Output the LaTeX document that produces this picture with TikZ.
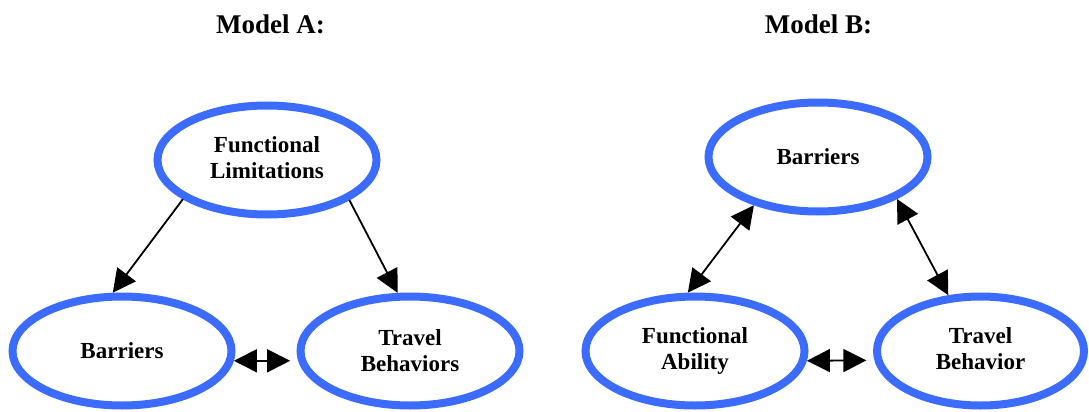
\documentclass[tikz,border=0pt]{standalone}
\usepackage{fontspec}
\setmainfont{Liberation Serif}
\usetikzlibrary{shapes.geometric,arrows.meta}
\definecolor{ringblue}{RGB}{59,107,255}
% two centred lines, lifted by the given amount
\newcommand{\liftlines}[3]{\raisebox{#1}{\begin{tabular}{@{}c@{}}#2\\#3\end{tabular}}}
\begin{document}
\begin{tikzpicture}[x=1pt,y=-1pt,
  concept/.style={ellipse,draw=ringblue,line width=8pt,minimum width=219pt,
    minimum height=109pt,inner sep=0pt,align=center,
    font=\bfseries\fontsize{23}{26}\selectfont},
  heading/.style={font=\bfseries\fontsize{27}{30}\selectfont,inner sep=0pt},
  link/.style={line width=1.8pt,-{Triangle[length=23pt,width=23pt]}},
  biglink/.style={line width=1.8pt,{Triangle[length=23pt,width=23pt]}-{Triangle[length=23pt,width=23pt]}}]
\useasboundingbox (0,0) rectangle (1089,412);

% Model A
\node[heading] (titleA) at (270.5,24) {Model A:};
\node[concept] (fl)  at (267,160) {\liftlines{5pt}{Functional}{Limitations}};
\node[concept] (barA) at (122,351) {Barriers};
\node[concept] (tbA) at (410,351) {Travel\\Behaviors};
\draw[link] (fl.205) -- (barA.99);
\draw[link] (fl.334) -- (tbA.102);
\draw[biglink,shorten >=8pt] (barA.-5) -- (tbA.185);

% Model B
\node[heading] (titleB) at (818.5,24) {Model B:};
\node[concept] (barB) at (818,157) {Barriers};
\node[concept] (fa)  at (695,351) {Functional\\Ability};
\node[concept,minimum width=207pt] (tbB) at (980.5,351) {\liftlines{7pt}{Travel}{Behavior}};
\draw[biglink] (barB.217) -- (fa.97);
\draw[biglink] (barB.-28) -- (tbB.120);
\draw[biglink,shorten >=8pt] (fa.-5) -- (tbB.185);
\end{tikzpicture}
\end{document}
